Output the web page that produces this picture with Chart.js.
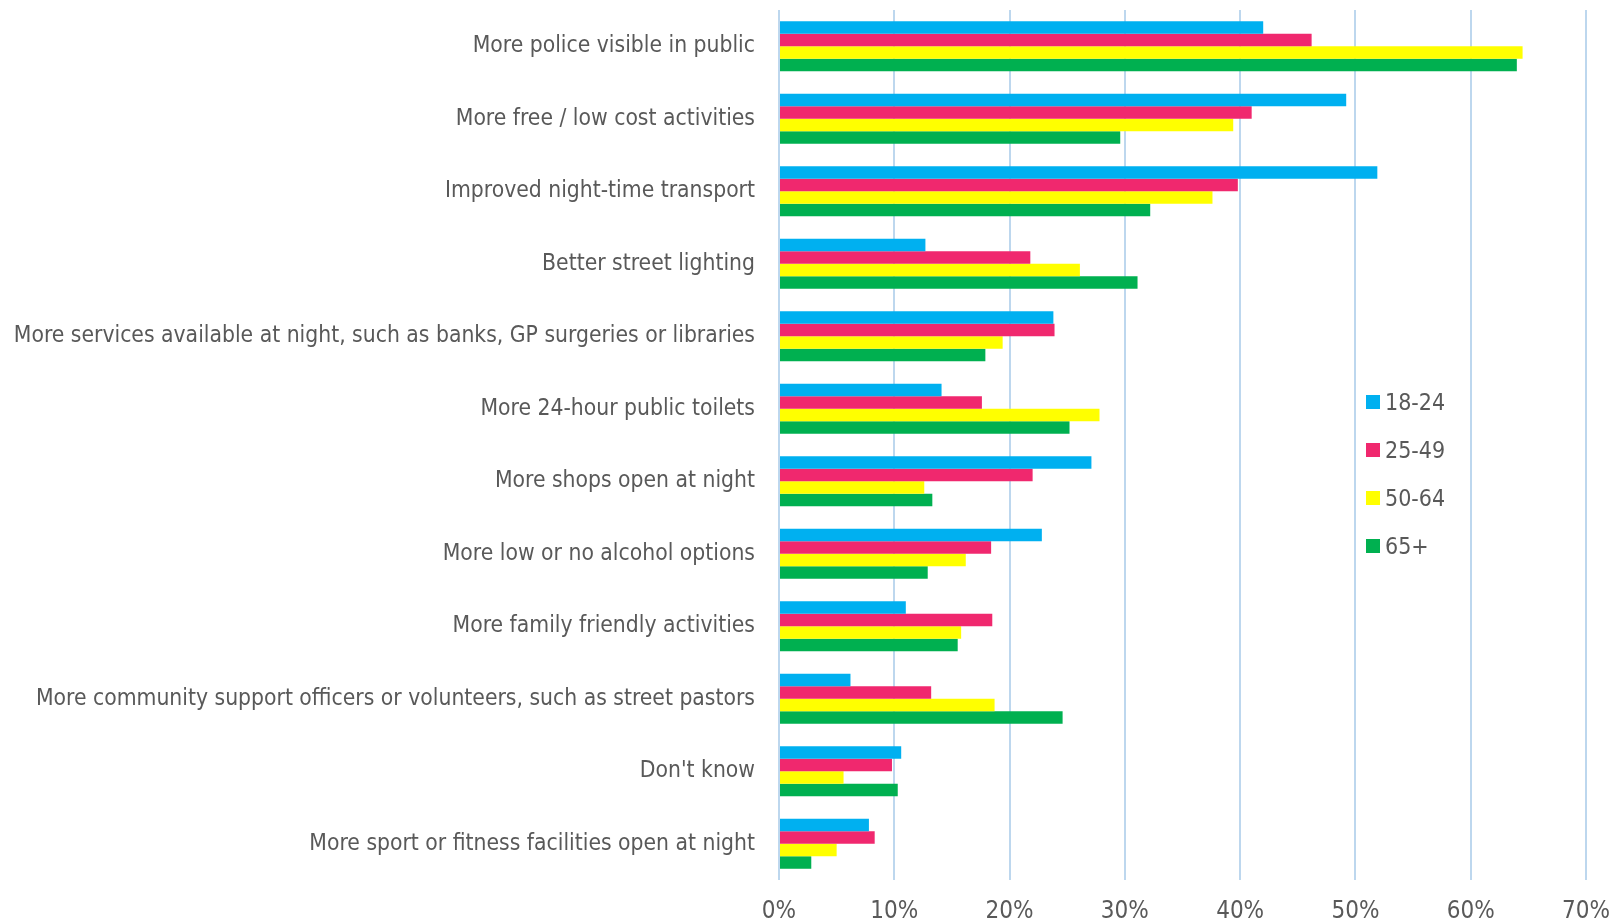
<!DOCTYPE html>
<html>
<head>
<meta charset="utf-8">
<script src="https://cdn.jsdelivr.net/npm/chart.js@4/dist/chart.umd.min.js"></script>
<style>
  html, body { margin: 0; padding: 0; background: #fff; }
  #wrap { position: relative; width: 1617px; height: 922px; }
  #legend { position: absolute; left: 1366px; top: 378px; font-family: "Liberation Sans Narrow", "DejaVu Sans Condensed", sans-serif; font-size: 23px; color: #595959; }
  #legend .item { display: flex; align-items: center; height: 48px; }
  #legend .box { width: 14px; height: 14px; margin-right: 5px; }
</style>
</head>
<body>
<div id="wrap">
  <canvas id="c" width="1617" height="922"></canvas>
  <div id="legend"></div>
</div>
<script>
const categories = [
  "More police visible in public",
  "More free / low cost activities",
  "Improved night-time transport",
  "Better street lighting",
  "More services available at night, such as banks, GP surgeries or libraries",
  "More 24-hour public toilets",
  "More shops open at night",
  "More low or no alcohol options",
  "More family friendly activities",
  "More community support officers or volunteers, such as street pastors",
  "Don't know",
  "More sport or fitness facilities open at night"
];
const seriesNames = ["18-24", "25-49", "50-64", "65+"];
const age18to24 = [42.0, 49.2, 51.9, 12.7, 23.8, 14.1, 27.1, 22.8, 11.0, 6.2, 10.6, 7.8];
const age25to49 = [46.2, 41.0, 39.8, 21.8, 23.9, 17.6, 22.0, 18.4, 18.5, 13.2, 9.8, 8.3];
const age50to64 = [64.5, 39.4, 37.6, 26.1, 19.4, 27.8, 12.6, 16.2, 15.8, 18.7, 5.6, 5.0];
const age65plus = [64.0, 29.6, 32.2, 31.1, 17.9, 25.2, 13.3, 12.9, 15.5, 24.6, 10.3, 2.8];
const xTicks = [0, 10, 20, 30, 40, 50, 60, 70];

const colors = ["#00B0F0", "#F0286E", "#FFFF00", "#00B050"];
const seriesValues = [age18to24, age25to49, age50to64, age65plus];
const FONT = '"Liberation Sans Narrow", "DejaVu Sans Condensed", sans-serif';
const TEXT = '#595959';

const chart = new Chart(document.getElementById('c'), {
  type: 'bar',
  data: {
    labels: categories,
    datasets: seriesNames.map((n, i) => ({
      label: n,
      data: seriesValues[i],
      backgroundColor: colors[i],
      borderWidth: 0,
      categoryPercentage: 0.69,
      barPercentage: 1.0
    }))
  },
  options: {
    indexAxis: 'y',
    responsive: false,
    animation: false,
    layout: { padding: { top: 10, right: 31, bottom: 0, left: 0 } },
    plugins: { legend: { display: false }, tooltip: { enabled: false } },
    scales: {
      x: {
        min: 0, max: 70,
        afterBuildTicks: (s) => { s.ticks = xTicks.map(v => ({ value: v })); },
        afterFit: (s) => { s.paddingLeft = 0; s.paddingRight = 0; s.height = 42; },
        grid: { color: '#BDD7EE', lineWidth: 2, drawTicks: false },
        border: { display: false },
        ticks: { padding: 17, color: TEXT, font: { family: FONT, size: 24 }, callback: v => v + '%' }
      },
      y: {
        grid: { display: false },
        border: { display: false },
        afterFit: (s) => { s.width = 779; s.paddingTop = 0; s.paddingBottom = 0; },
        ticks: { padding: 16, color: TEXT, font: { family: FONT, size: 22.7 } }
      }
    }
  }
});

const leg = document.getElementById('legend');
chart.data.datasets.forEach(ds => {
  const it = document.createElement('div'); it.className = 'item';
  const b = document.createElement('span'); b.className = 'box'; b.style.background = ds.backgroundColor;
  const t = document.createElement('span'); t.textContent = ds.label;
  it.appendChild(b); it.appendChild(t); leg.appendChild(it);
});
</script>
</body>
</html>
